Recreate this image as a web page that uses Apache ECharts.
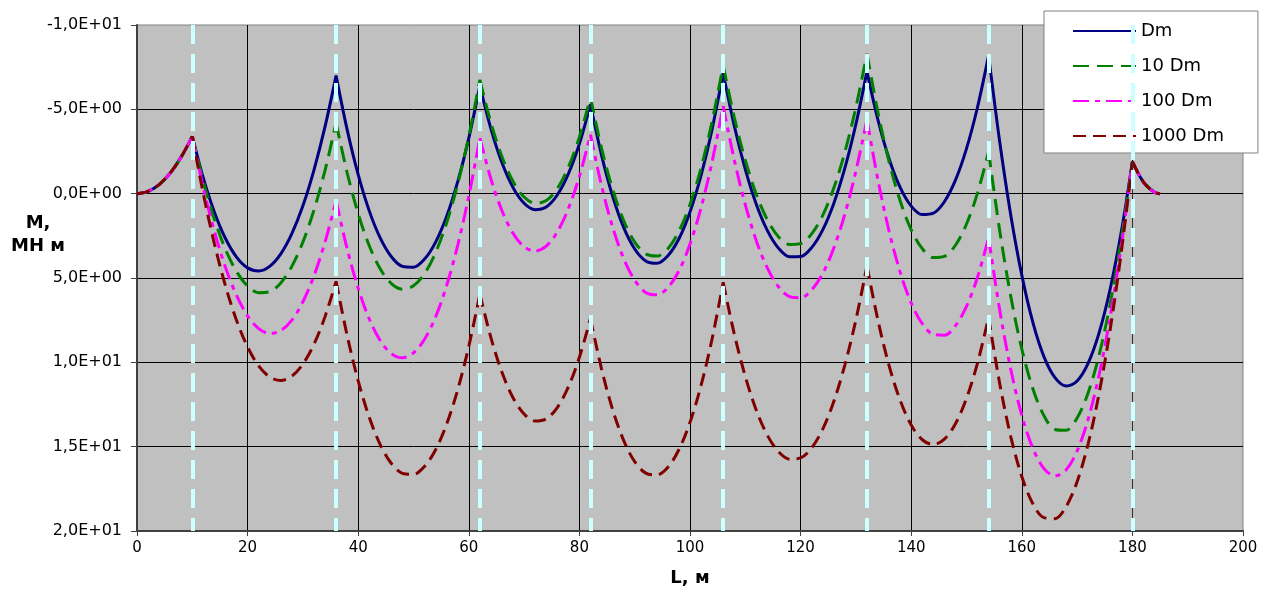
<!DOCTYPE html>
<html><head><meta charset="utf-8">
<script src="https://cdn.jsdelivr.net/npm/echarts@6/dist/echarts.min.js"></script>
<style>html,body{margin:0;padding:0;background:#fff}#c{width:1261px;height:592px}</style>
</head><body><div id="c"></div>
<script>
// x positions (m)
const xs = [0,2,4,6,8,10,12,14,16,18,20,22,24,26,28,30,32,34,36,38,40,42,44,46,48,50,52,54,56,58,60,62,64,66,68,70,72,74,76,78,80,82,84,86,88,90,92,94,96,98,100,102,104,106,108,110,112,114,116,118,120,122,124,126,128,130,132,134,136,138,140,142,144,146,148,150,152,154,156,158,160,162,164,166,168,170,172,174,176,178,180,182,184,185];
// support positions (m)
const supports = [10,36,62,82,106,132,154,180];
// moments, MN m
const dm = [0,-0.14,-0.54,-1.22,-2.18,-3.4,
 -0.92,1.10,2.66,3.76,4.40,4.58,4.31,3.57,2.37,0.72,-1.40,-3.97,-7.0,
 -3.80,-1.13,1.02,2.64,3.74,4.31,4.36,3.88,2.87,1.34,-0.71,-3.29,-6.4,
 -3.84,-1.83,-0.36,0.57,0.95,0.79,0.08,-1.17,-2.96,-5.3,
 -2.29,0.14,2.0,3.28,3.99,4.13,3.68,2.67,1.08,-1.09,-3.83,-7.15,
 -4.03,-1.44,0.64,2.19,3.23,3.74,3.73,3.20,2.15,0.58,-1.51,-4.12,-7.25,
 -4.36,-2.07,-0.37,0.74,1.24,1.16,0.48,-0.80,-2.67,-5.14,-8.2,
 -3.09,1.26,4.83,7.63,9.66,10.91,11.40,11.11,10.05,8.22,5.62,2.25,-1.9,
 -0.69,-0.08,0];
const dm10 = [0,-0.14,-0.54,-1.22,-2.18,-3.4,
 -0.71,1.53,3.30,4.62,5.48,5.87,5.81,5.29,4.31,2.87,0.97,-1.38,-4.2,
 -1.24,1.19,3.09,4.47,5.33,5.66,5.46,4.74,3.49,1.72,-0.58,-3.40,-6.75,
 -4.20,-2.19,-0.72,0.20,0.58,0.41,-0.30,-1.56,-3.36,-5.7,
 -2.70,-0.27,1.59,2.87,3.57,3.70,3.26,2.23,0.64,-1.53,-4.28,-7.6,
 -4.53,-1.98,0.05,1.56,2.55,3.01,2.96,2.38,1.29,-0.33,-2.46,-5.12,-8.3,
 -4.80,-1.89,0.42,2.14,3.26,3.79,3.72,3.06,1.80,-0.05,-2.5,
 2.18,6.08,9.21,11.57,13.16,13.98,14.03,13.30,11.80,9.54,6.50,2.68,-1.9,
 -0.69,-0.08,0];
const dm100 = [0,-0.14,-0.54,-1.22,-2.18,-3.4,
 -0.35,2.24,4.37,6.03,7.25,8.00,8.29,8.12,7.50,6.41,4.87,2.86,0.4,
 3.27,5.61,7.43,8.72,9.49,9.73,9.44,8.63,7.30,5.44,3.05,0.14,-3.3,
 -0.87,1.01,2.35,3.15,3.40,3.11,2.27,0.89,-1.03,-3.5,
 -0.48,1.97,3.84,5.13,5.86,6.00,5.57,4.57,2.99,0.83,-1.90,-5.2,
 -2.01,0.65,2.80,4.42,5.52,6.10,6.17,5.71,4.73,3.23,1.21,-1.34,-4.4,
 -0.79,2.23,4.65,6.48,7.71,8.34,8.39,7.83,6.68,4.94,2.6,
 6.88,10.40,13.14,15.10,16.30,16.73,16.38,15.26,13.37,10.71,7.28,3.08,-1.9,
 -0.69,-0.08,0];
const dm1000 = [0,-0.14,-0.54,-1.22,-2.18,-3.4,
 0.02,2.97,5.47,7.51,9.09,10.21,10.87,11.08,10.82,10.10,8.93,7.29,5.2,
 8.41,11.10,13.26,14.89,16.00,16.58,16.64,16.17,15.18,13.66,11.62,9.05,5.95,
 8.54,10.59,12.10,13.06,13.48,13.35,12.68,11.46,9.70,7.4,
 10.39,12.79,14.63,15.89,16.57,16.68,16.22,15.17,13.56,11.37,8.60,5.26,
 8.31,10.84,12.85,14.33,15.30,15.74,15.67,15.07,13.96,12.32,10.16,7.48,4.28,
 7.53,10.19,12.25,13.72,14.59,14.87,14.55,13.64,12.13,10.03,7.33,
 11.25,14.40,16.77,18.38,19.21,19.27,18.56,17.08,14.83,11.80,8.01,3.44,-1.9,
 -0.69,-0.08,0];
const seriesNames = ['Dm','10 Dm','100 Dm','1000 Dm'];
const yTicks = [-10,-5,0,5,10,15,20];
const yTickLabels = ['-1,0E+01','-5,0E+00','0,0E+00','5,0E+00','1,0E+01','1,5E+01','2,0E+01'];

// build [x,y] pairs; break the line at each support so each span is smoothed on its own
const pairs = arr => {
  const out = [];
  xs.forEach((x,i)=>{
    out.push([x, arr[i]]);
    if (supports.indexOf(x) >= 0) { out.push([x, null]); out.push([x, arr[i]]); }
  });
  return out;
};
const FONT = 'DejaVu Sans';
const chart = echarts.init(document.getElementById('c'), null, {renderer:'canvas'});
const baseSeries = (name, arr, color, type) => ({
  name, type:'line', data: pairs(arr), symbol:'none', showSymbol:false,
  smooth:0.33, connectNulls:false,
  lineStyle:{color, width:3, type}, itemStyle:{color}, animation:false,
  emphasis:{disabled:true}
});
const s4 = baseSeries(seriesNames[3], dm1000, '#800000', [13,7]);
s4.markLine = {
  silent:true, symbol:['none','none'], label:{show:false}, animation:false,
  emphasis:{disabled:true},
  lineStyle:{color:'#CCFFFF', width:4, type:[19,10], opacity:1},
  data:[
    [{coord:[180,-1.9], lineStyle:{color:'#303030', width:1, type:'solid'}}, {coord:[180,20]}]
  ].concat(supports.map(s=>({xAxis:s})))
};
chart.setOption({
  animation:false,
  backgroundColor:'#ffffff',
  grid:{left:137, right:18, top:25, bottom:59, show:true, backgroundColor:'#C0C0C0', borderColor:'#808080', borderWidth:1},
  legend:{
    data:seriesNames, orient:'vertical', left:1044, top:11,
    backgroundColor:'#ffffff', borderColor:'#808080', borderWidth:1,
    padding:[11,34,8,28], itemWidth:63, itemHeight:14, itemGap:17,
    itemStyle:{color:'rgba(0,0,0,0)', borderWidth:0, opacity:0},
    textStyle:{fontFamily:FONT, fontSize:18, color:'#000'}, selectedMode:false
  },
  graphic:[{type:'text', x:38, y:212, silent:true,
    style:{text:'M,\nМН м', fill:'#000', fontFamily:FONT, fontWeight:'bold', fontSize:18, lineHeight:23, align:'center', verticalAlign:'top'}}],
  xAxis:{
    type:'value', min:0, max:200, interval:20,
    name:'L, м', nameLocation:'middle', nameGap:38,
    nameTextStyle:{fontFamily:FONT, fontWeight:'bold', fontSize:18, color:'#000'},
    axisLine:{show:true, onZero:false, lineStyle:{color:'#404040', width:2}},
    axisTick:{show:true, length:5, lineStyle:{color:'#404040', width:1}},
    axisLabel:{margin:10, color:'#000', fontFamily:FONT, fontSize:15},
    splitLine:{show:true, showMinLine:false, showMaxLine:false, lineStyle:{color:'#000', width:1}}
  },
  yAxis:{
    type:'value', inverse:true, min:-10, max:20, interval:5,
    axisLine:{show:true, onZero:false, lineStyle:{color:'#404040', width:2}},
    axisTick:{show:true, length:6, lineStyle:{color:'#404040', width:1}},
    axisLabel:{margin:15, color:'#000', fontFamily:FONT, fontSize:16,
      formatter:v=>{const i=yTicks.indexOf(v); return i>=0?yTickLabels[i]:'';}},
    splitLine:{show:true, showMinLine:false, showMaxLine:false, lineStyle:{color:'#000', width:1}}
  },
  series:[
    baseSeries(seriesNames[0], dm, '#000080', 'solid'),
    baseSeries(seriesNames[1], dm10, '#008000', [16,8]),
    baseSeries(seriesNames[2], dm100, '#FF00FF', [16,6,5,6]),
    s4
  ]
});
</script></body></html>
